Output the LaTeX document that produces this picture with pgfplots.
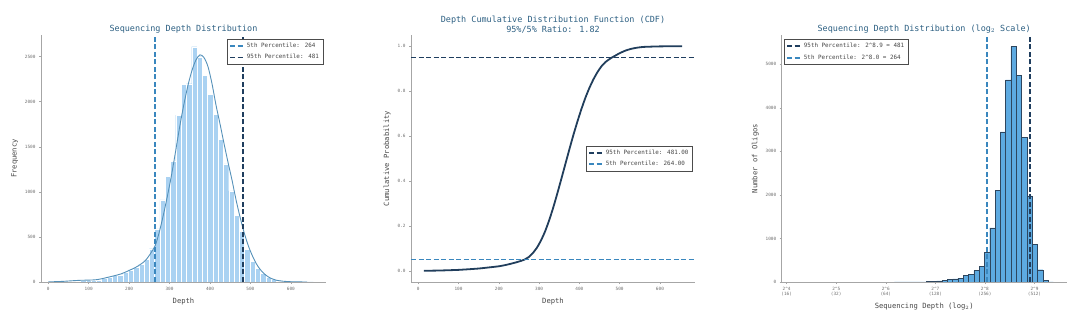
\documentclass[border=0pt]{standalone}
\usepackage{fontspec}
\setmainfont{DejaVu Sans Mono}
\usepackage{pgfplots}
\pgfplotsset{compat=1.18}
\definecolor{titlec}{RGB}{44,95,130}
\definecolor{darkl}{RGB}{31,62,95}
\definecolor{lightl}{RGB}{58,135,190}
\definecolor{histA}{RGB}{170,210,242}
\definecolor{kdec}{RGB}{85,145,185}
\definecolor{histB}{RGB}{93,170,225}
\definecolor{edgeB}{RGB}{45,70,95}
\definecolor{cdfc}{RGB}{33,62,92}
\definecolor{tickc}{RGB}{110,110,110}
\definecolor{labc}{RGB}{70,70,70}
\pgfplotsset{
 mystyle/.style={scale only axis, height=247bp, anchor=south west,
  axis lines*=left, axis line style={gray!70, line width=0.6bp},
  tick align=outside, major tick length=2bp, tick style={gray!70, line width=0.5bp},
  ticklabel style={font=\fontsize{4.4}{5}\selectfont, text=tickc},
  label style={font=\fontsize{7.2}{8.5}\selectfont, text=labc},
  title style={font=\fontsize{8.5}{10}\selectfont, text=titlec, align=center, yshift=-8bp},
  /pgf/number format/assume math mode=true, /pgf/number format/1000 sep={},
  legend style={font=\fontsize{5.9}{7}\selectfont, draw=gray!60!black, line width=0.5bp, fill=white, inner sep=2bp, row sep=1.5bp, text=labc},
  legend cell align=left,
  legend image code/.code={\draw[##1] (0bp,0bp) -- (14bp,0bp);},
 },
 pline/.style={dash pattern=on 5bp off 2.5bp, line width=1.7bp},
}
\begin{document}
\begin{tikzpicture}
\useasboundingbox (0,0) rectangle (1080bp,325bp);
% ---------- Panel 1 ----------
\begin{axis}[mystyle, at={(41bp,43bp)}, width=285bp,
  xmin=-18, xmax=687, ymin=0, ymax=2740,
  xtick={0,100,...,600}, ytick={0,500,...,2500},
  xlabel={Depth}, ylabel={Frequency},
  title={Sequencing Depth Distribution},
  legend style={at={(0.99,0.985)}, anchor=north east}]
\addplot[ybar interval, fill=histA, draw=white, line width=0.2bp, forget plot] coordinates {
(14.0,2) (27.1,3) (40.2,6) (53.3,10) (66.4,15) (79.5,20) (92.6,22) (105.7,20) (118.8,24) (131.9,38)
(145.0,58) (158.1,72) (171.2,80) (184.3,105) (197.4,135) (210.5,160) (223.6,195) (236.7,250) (249.8,370) (262.9,590)
(276.0,910) (289.1,1170) (302.2,1340) (315.3,1850) (328.4,2190) (341.5,2200) (354.6,2610) (367.7,2500) (380.8,2290) (393.9,2080)
(407.0,1860) (420.1,1580) (433.2,1310) (446.3,1010) (459.4,740) (472.5,560) (485.6,360) (498.7,230) (511.8,150) (524.9,95)
(538.0,55) (551.1,30) (564.2,15) (577.3,8) (590.4,4) (603.5,2) (616.6,1) (629.7,1) (642.8,1) (655.9,0)};
\addplot[kdec, line width=0.9bp, smooth, forget plot] coordinates {
(0,2) (20,4) (40,8) (60,14) (80,19) (100,21) (120,26) (140,44) (160,66) (180,90) (200,128) (220,172) (240,238)
(255,330) (265,410) (275,560) (285,750) (295,960) (305,1190) (315,1450) (325,1720) (335,1960) (345,2170) (355,2340)
(365,2460) (375,2520) (385,2490) (395,2390) (405,2200) (415,1960) (425,1750) (435,1530) (445,1320) (455,1120)
(465,900) (475,710) (485,540) (495,400) (505,290) (515,200) (525,135) (535,88) (545,55) (555,33) (565,19) (580,9)
(600,3) (620,1) (640,0)};
\addplot[lightl, pline] coordinates {(264,0) (264,2740)};
\addlegendentry{5th Percentile: 264}
\addplot[darkl, pline] coordinates {(481,0) (481,2740)};
\addlegendentry{95th Percentile: 481}
\end{axis}
% ---------- Panel 2 ----------
\begin{axis}[mystyle, at={(411bp,43bp)}, width=284bp,
  xmin=-18, xmax=687, ymin=-0.05, ymax=1.05,
  xtick={0,100,...,600}, ytick={0,0.2,...,1.0},
  yticklabel style={/pgf/number format/.cd, fixed, fixed zerofill, precision=1},
  xlabel={Depth}, ylabel={Cumulative Probability},
  title={Depth Cumulative Distribution Function (CDF)\\95\%/5\% Ratio: 1.82},
  legend style={at={(0.992,0.5)}, anchor=east}]
\addplot[cdfc, line width=1.8bp, smooth, tension=0.3, forget plot] coordinates {
(14,0) (50,0.001) (100,0.004) (150,0.010) (200,0.020) (220,0.027) (240,0.036) (255,0.044) (264,0.050)
(275,0.062) (285,0.080) (295,0.104) (305,0.136) (315,0.176) (325,0.225) (335,0.281) (345,0.343) (355,0.408)
(365,0.474) (375,0.540) (385,0.604) (395,0.664) (405,0.720) (415,0.771) (425,0.815) (435,0.853) (445,0.885)
(455,0.911) (465,0.930) (475,0.943) (481,0.950) (490,0.959) (500,0.969) (515,0.981) (530,0.989) (545,0.994)
(560,0.997) (600,0.9993) (655,1.0)};
\addplot[darkl, pline] coordinates {(-18,0.95) (687,0.95)};
\addlegendentry{95th Percentile: 481.00}
\addplot[lightl, pline] coordinates {(-18,0.05) (687,0.05)};
\addlegendentry{5th Percentile: 264.00}
\end{axis}
% ---------- Panel 3 ----------
\begin{axis}[mystyle, at={(781.7bp,43bp)}, width=285bp,
  xmin=3.9, xmax=9.65, ymin=0, ymax=5672,
  xtick={4,5,6,7,8,9}, ytick={0,1000,...,5000},
  xticklabels={{2\textasciicircum 4\\(16)},{2\textasciicircum 5\\(32)},{2\textasciicircum 6\\(64)},{2\textasciicircum 7\\(128)},{2\textasciicircum 8\\(256)},{2\textasciicircum 9\\(512)}},
  xticklabel style={align=center},
  xlabel={Sequencing Depth (log$_2$)}, ylabel={Number of Oligos},
  title={Sequencing Depth Distribution (log$_2$ Scale)},
  legend style={at={(0.008,0.984)}, anchor=north west}]
\addplot[ybar interval, fill=histB, draw=edgeB, line width=0.4bp, forget plot] coordinates {
(6.171,1) (6.278,2) (6.385,2) (6.492,3) (6.599,4) (6.706,5) (6.813,8) (6.920,15) (7.027,28) (7.134,38)
(7.241,54) (7.348,70) (7.455,88) (7.562,148) (7.669,175) (7.776,260) (7.883,355) (7.990,680) (8.097,1245)
(8.204,2100) (8.311,3447) (8.418,4640) (8.525,5404) (8.632,4747) (8.739,3325) (8.846,1980) (8.953,870)
(9.060,282) (9.167,37) (9.274,5) (9.381,0)};
\addplot[darkl, pline] coordinates {(8.910,0) (8.910,5672)};
\addlegendentry{95th Percentile: 2\textasciicircum 8.9 = 481}
\addplot[lightl, pline] coordinates {(8.044,0) (8.044,5672)};
\addlegendentry{5th Percentile: 2\textasciicircum 8.0 = 264}
\end{axis}
\end{tikzpicture}
\end{document}
